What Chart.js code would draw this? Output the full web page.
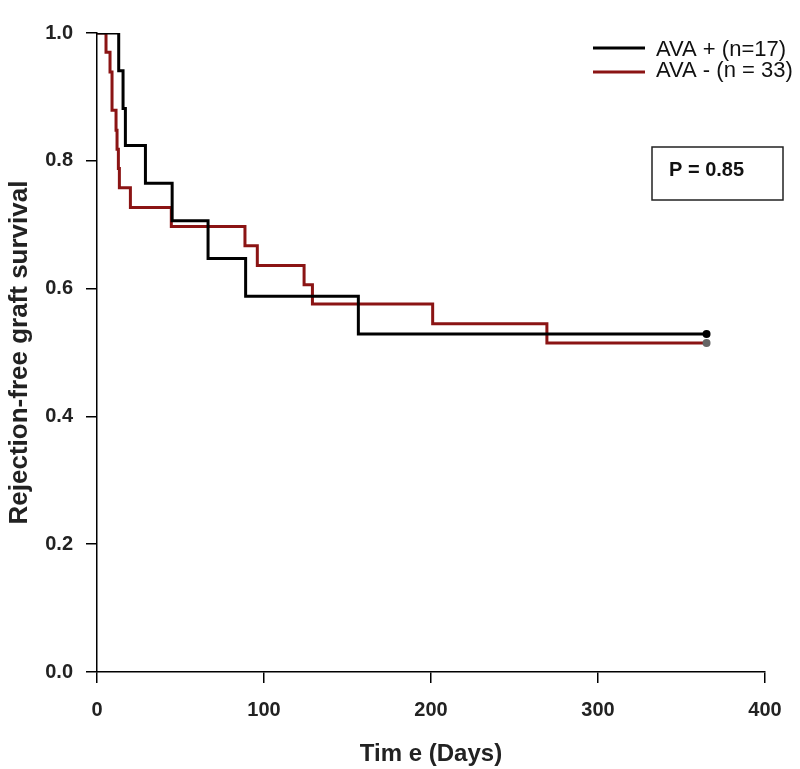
<!DOCTYPE html>
<html>
<head>
<meta charset="utf-8">
<script src="https://cdn.jsdelivr.net/npm/chart.js@4"></script>
<style>
  html, body { margin: 0; padding: 0; background: #fff; }
  #wrap { width: 800px; height: 769px; }
</style>
</head>
<body>
<div id="wrap"><canvas id="kmChart" width="800" height="769"></canvas></div>
<script>
// Kaplan-Meier steps
const avaPosDays = [0, 13, 15.6, 17, 29, 45, 66.5, 89, 156.5, 365];
const avaPosSurv = [1.0, 0.941, 0.882, 0.824, 0.765, 0.706, 0.647, 0.588, 0.529, 0.529];
const avaNegDays = [0, 5.4, 7.8, 9, 11.4, 12, 12.8, 13.4, 20, 44.5, 88.6, 96, 124, 129, 201, 269.4, 365];
const avaNegSurv = [1.0, 0.970, 0.939, 0.879, 0.848, 0.818, 0.788, 0.758, 0.727, 0.697, 0.667, 0.636, 0.606, 0.576, 0.545, 0.515, 0.515];
const xTicks = [0, 100, 200, 300, 400];
const yTicks = [0, 0.2, 0.4, 0.6, 0.8, 1.0];
const legendLabels = ['AVA + (n=17)', 'AVA - (n = 33)'];
const pValueText = 'P = 0.85';

const RED = '#8b1414';
const sans = '"Liberation Sans", Arial, sans-serif';

function toPoints(days, surv) {
  return days.map((d, i) => ({ x: d, y: surv[i] }));
}

function endDot(n) {
  return ctx => (ctx.dataIndex === n - 1 ? 4 : 0);
}

// legend + p-value box drawn over the plot
const annotations = {
  id: 'annotations',
  afterDraw(chart) {
    const c = chart.ctx;
    c.save();
    c.lineWidth = 3;
    c.strokeStyle = '#000';
    c.beginPath(); c.moveTo(593, 48); c.lineTo(645, 48); c.stroke();
    c.strokeStyle = RED;
    c.beginPath(); c.moveTo(593, 72); c.lineTo(645, 72); c.stroke();
    c.fillStyle = '#111';
    c.font = '22px ' + sans;
    c.textBaseline = 'middle';
    c.fillText(legendLabels[0], 656, 50);
    c.fillText(legendLabels[1], 656, 71);

    c.lineWidth = 1.5;
    c.strokeStyle = '#222';
    c.strokeRect(652, 147, 131, 53);
    c.font = 'bold 20px ' + sans;
    c.fillText(pValueText, 669, 170);
    c.restore();
  }
};

new Chart(document.getElementById('kmChart').getContext('2d'), {
  type: 'line',
  data: {
    datasets: [
      {
        label: legendLabels[0],
        data: toPoints(avaPosDays, avaPosSurv),
        borderColor: '#000',
        borderWidth: 3,
        stepped: true,
        pointRadius: endDot(avaPosDays.length),
        pointBackgroundColor: '#000',
        pointBorderWidth: 0
      },
      {
        label: legendLabels[1],
        data: toPoints(avaNegDays, avaNegSurv),
        borderColor: RED,
        borderWidth: 3,
        stepped: true,
        pointRadius: endDot(avaNegDays.length),
        pointBackgroundColor: '#666',
        pointBorderWidth: 0
      }
    ]
  },
  options: {
    responsive: false,
    animation: false,
    layout: { padding: { left: 0, right: 35, top: 33, bottom: 0 } },
    plugins: {
      legend: { display: false },
      tooltip: { enabled: false }
    },
    scales: {
      x: {
        type: 'linear',
        min: 0,
        max: 400,
        afterBuildTicks: s => { s.ticks = xTicks.map(v => ({ value: v })); },
        afterFit: s => { s.height = 97; },
        grid: { drawOnChartArea: false, drawTicks: true, tickLength: 11, color: '#000', lineWidth: 1.5 },
        border: { display: true, color: '#000', width: 1.5 },
        ticks: { color: '#222', padding: 15, font: { family: sans, size: 20, weight: 'bold' } },
        title: { display: true, text: 'Tim e (Days)', color: '#222', padding: { top: 1, bottom: 0 },
                 font: { family: sans, size: 24, weight: 'bold' } }
      },
      y: {
        min: 0,
        max: 1,
        afterBuildTicks: s => { s.ticks = yTicks.map(v => ({ value: v })); },
        afterFit: s => { s.width = 97; },
        grid: { drawOnChartArea: false, drawTicks: true, tickLength: 11, color: '#000', lineWidth: 1.5 },
        border: { display: true, color: '#000', width: 1.5 },
        ticks: { color: '#222', padding: 13, callback: v => v.toFixed(1),
                 font: { family: sans, size: 20, weight: 'bold' } },
        title: { display: true, text: 'Rejection-free graft survival', color: '#222', padding: { top: 4, bottom: 0 },
                 font: { family: sans, size: 26, weight: 'bold' } }
      }
    }
  },
  plugins: [annotations]
});
</script>
</body>
</html>
